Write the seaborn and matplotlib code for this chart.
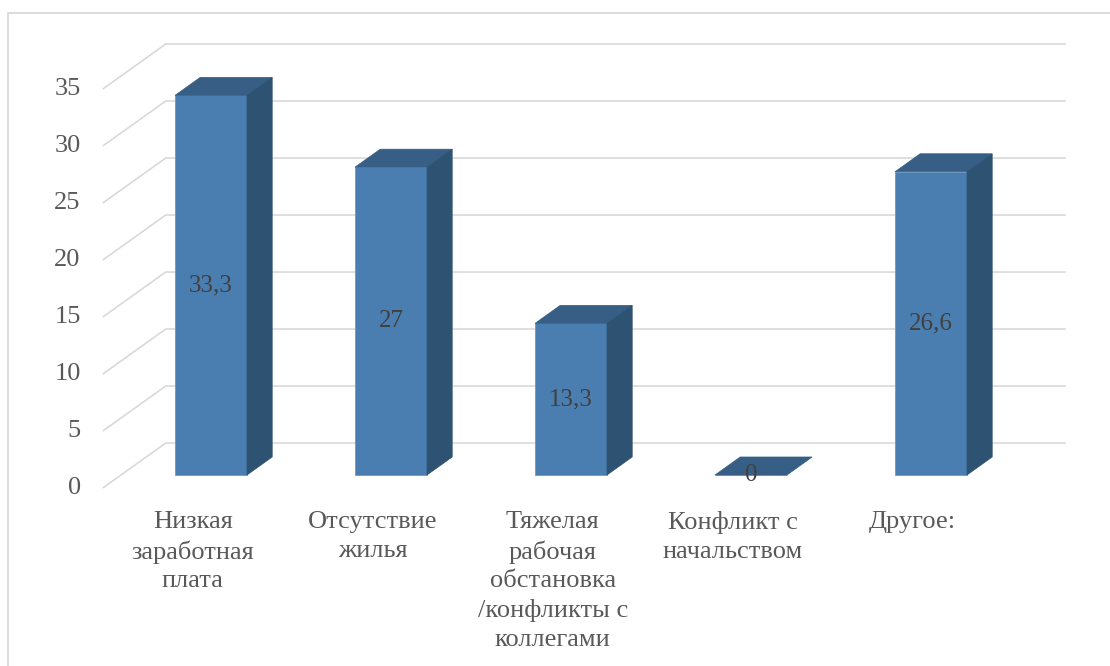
import matplotlib
matplotlib.use("Agg")
import matplotlib.pyplot as plt
from matplotlib.patches import Polygon, Rectangle
import seaborn as sns
import pandas as pd

# ---- data ----
categories = [
    "Низкая\nзаработная\nплата",
    "Отсутствие\nжилья",
    "Тяжелая\nрабочая\nобстановка\n/конфликты с\nколлегами",
    "Конфликт с\nначальством",
    "Другое:",
]
values = [33.3, 27, 13.3, 0, 26.6]
y_ticks = [0, 5, 10, 15, 20, 25, 30, 35]

# ---- style ----
sns.set_theme(style="white")
plt.rcParams["font.family"] = ["Liberation Serif", "DejaVu Serif"]

FRONT = "#4A7EB0"
TOP = "#375F85"
SIDE = "#2E5272"
GRID = "#D9D9D9"
TICK_COL = "#595959"
LABEL_COL = "#404040"
FS = 19
FS_LAB = 18

W, H, DPI = 1110, 666, 100
fig = plt.figure(figsize=(W / DPI, H / DPI), dpi=DPI)
ax = fig.add_axes([0, 0, 1, 1])

# oblique "3D" projection (bar front plane is the data plane)
DX, DY = 0.35, 3.95          # offset for a full unit of depth
BAR_D0, BAR_D1 = 0.29, 0.69  # depth of bar front / back
BAR_W = 0.4


def proj(x, y, d):
    return x + DX * (d - BAR_D0), y + DY * (d - BAR_D0)


df = pd.DataFrame({"cat": categories, "val": values})
sns.barplot(data=df, x="cat", y="val", color=FRONT, saturation=1, width=BAR_W,
            edgecolor="#6D97C2", linewidth=0.6, ax=ax, zorder=3)

n = len(categories)
x_min, x_max = -0.5, n - 0.5

# gridlines: floor-front diagonal + back wall
for t in y_ticks:
    p0 = proj(x_min, t, 0)
    p1 = proj(x_min, t, 1)
    p2 = proj(x_max, t, 1)
    ax.plot([p0[0], p1[0], p2[0]], [p0[1], p1[1], p2[1]], color=GRID,
            lw=1.2, zorder=1, solid_capstyle="butt")
    ax.annotate(str(t), xy=p0, xytext=(-22, 0), textcoords="offset pixels",
                ha="right", va="center", fontsize=FS, color=TICK_COL)

# 3D faces of bars
for i, v in enumerate(values):
    xl, xr = i - BAR_W / 2, i + BAR_W / 2
    top = [proj(xl, v, BAR_D0), proj(xr, v, BAR_D0), proj(xr, v, BAR_D1), proj(xl, v, BAR_D1)]
    ax.add_patch(Polygon(top, closed=True, facecolor=TOP, edgecolor=TOP, lw=0.5, zorder=3))
    if v > 0:
        side = [proj(xr, 0, BAR_D0), proj(xr, v, BAR_D0), proj(xr, v, BAR_D1), proj(xr, 0, BAR_D1)]
        ax.add_patch(Polygon(side, closed=True, facecolor=SIDE, edgecolor=SIDE, lw=0.5, zorder=3))
    lab = f"{v:g}".replace(".", ",")
    ax.text(i, v / 2, lab, ha="center", va="center", fontsize=FS_LAB, color=LABEL_COL, zorder=5)

# category labels at floor front
for i, c in enumerate(categories):
    p = proj(i, 0, 0)
    ax.annotate(c, xy=p, xytext=(0, -23), textcoords="offset pixels", ha="center",
                va="top", fontsize=FS, color=TICK_COL, linespacing=1.39,
                multialignment="center")

ax.set_xlim(-211 / 180, (W - 211) / 180)
ax.set_ylim(-(H - 475) / 11.4, 475 / 11.4)
ax.axis("off")

# outer chart border
fig.add_artist(Rectangle((8 / W, -0.05), 1.0, 1 - 13 / H + 0.05, transform=fig.transFigure,
                         fill=False, edgecolor=GRID, lw=1.3))

fig.savefig("out.png", dpi=DPI, facecolor="white")
